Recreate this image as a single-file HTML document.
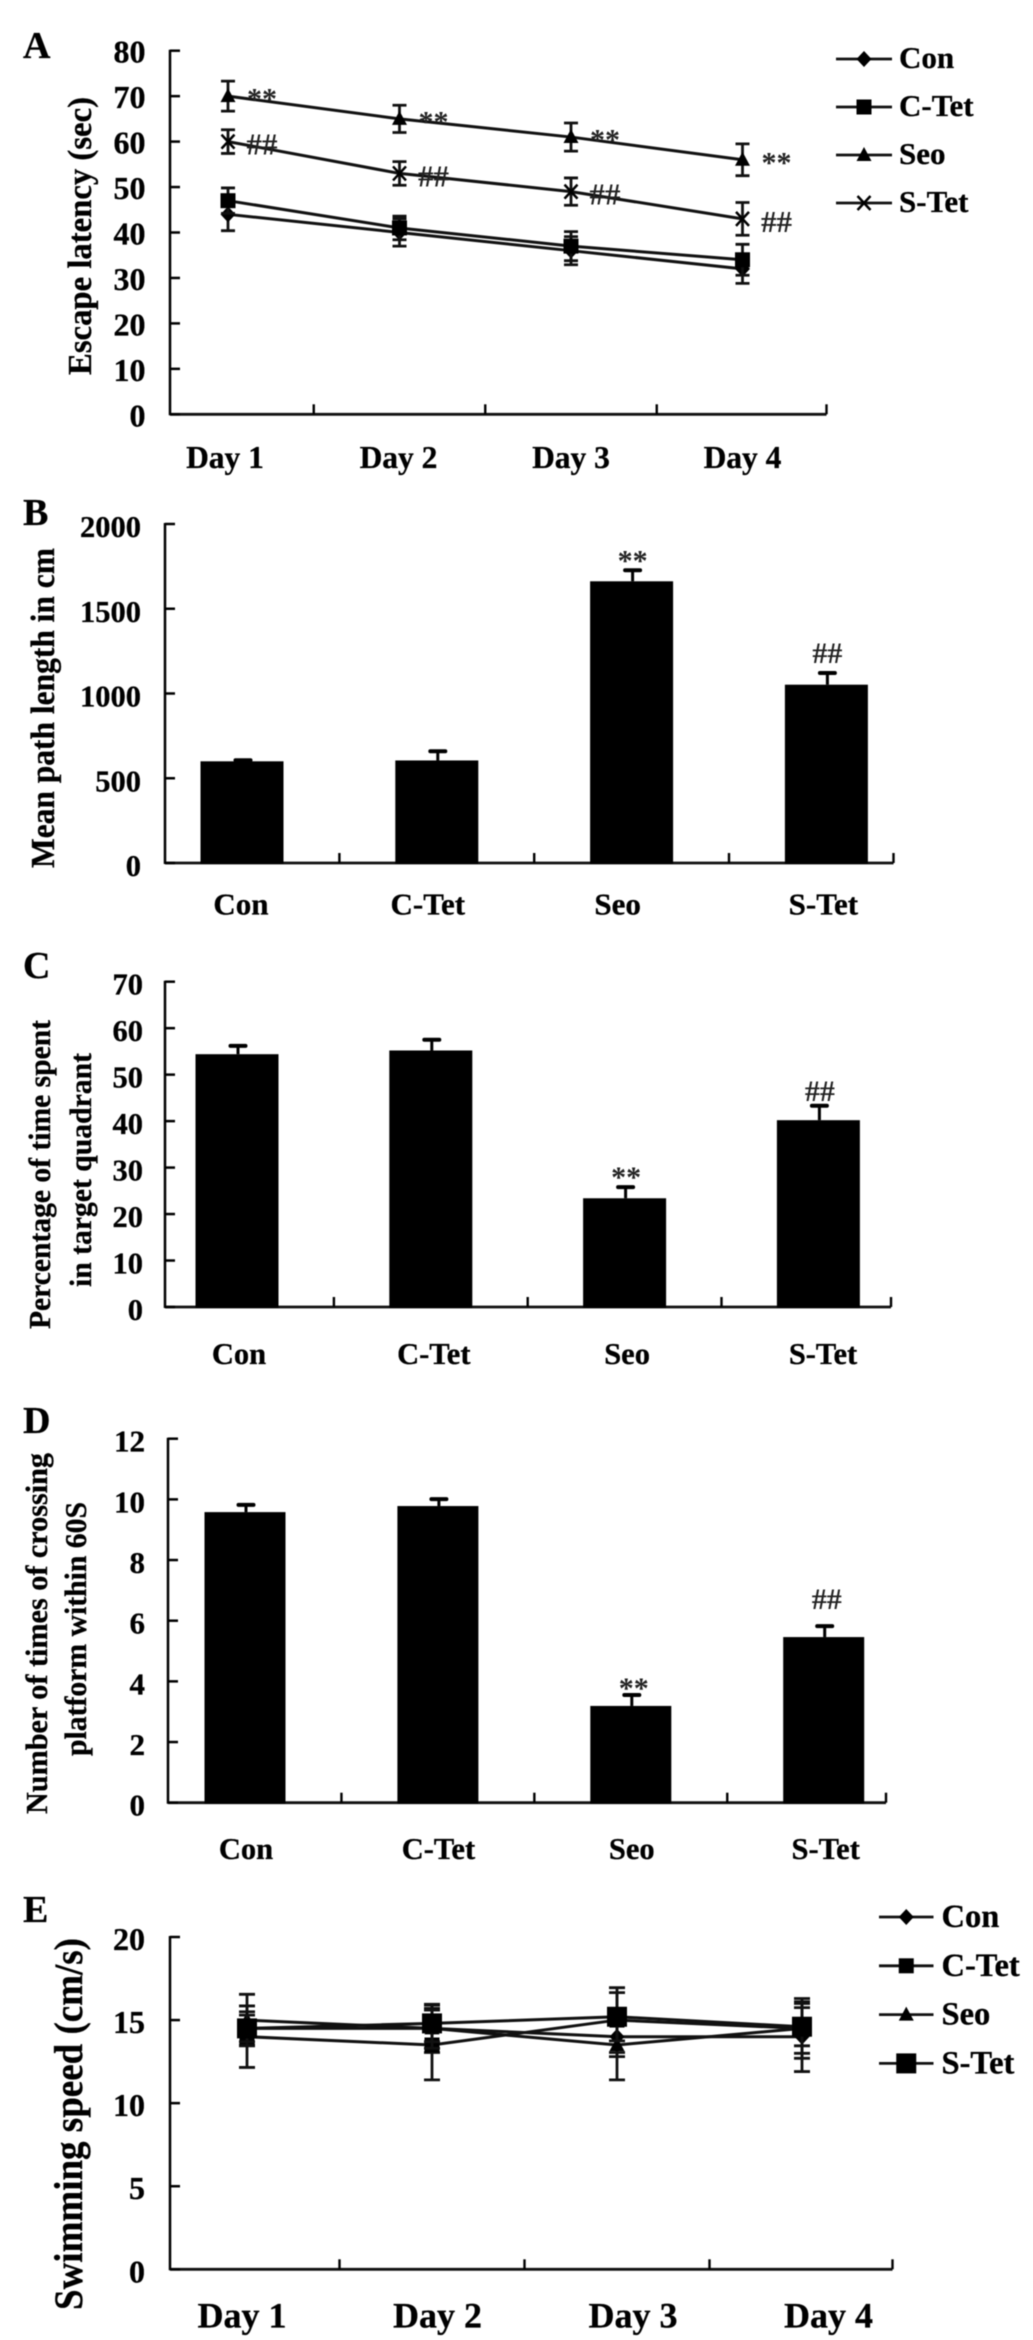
<!DOCTYPE html>
<html lang="en">
<head>
<meta charset="utf-8">
<title>Behavioural test results, panels A to E</title>
<style>
  html, body { margin: 0; padding: 0; background: #fff; }
  svg { display: block; filter: blur(0.45px); }
  text { font-family: "Liberation Serif", serif; font-weight: bold; fill: #000; stroke: #000; stroke-width: 0.3px; }
</style>
</head>
<body>
<svg id="figure" xmlns="http://www.w3.org/2000/svg" width="1033" height="2340" viewBox="0 0 1033 2340">
  <rect width="1033" height="2340" fill="#fff"/>

  <text x="23" y="58" font-size="38">A</text>
  <text x="23" y="525" font-size="38">B</text>
  <text x="23" y="978" font-size="38">C</text>
  <text x="23" y="1433" font-size="38">D</text>
  <text x="23" y="1922" font-size="38">E</text>

  <text x="91" y="375" transform="rotate(-90 91 375)" font-size="34" textLength="278" lengthAdjust="spacingAndGlyphs">Escape latency (sec)</text>
  <text x="54" y="868" transform="rotate(-90 54 868)" font-size="34" textLength="320" lengthAdjust="spacingAndGlyphs">Mean path length in cm</text>
  <text x="50" y="1329" transform="rotate(-90 50 1329)" font-size="31" textLength="309" lengthAdjust="spacingAndGlyphs">Percentage of time spent</text>
  <text x="91" y="1287" transform="rotate(-90 91 1287)" font-size="31" textLength="234" lengthAdjust="spacingAndGlyphs">in target quadrant</text>
  <text x="47" y="1814" transform="rotate(-90 47 1814)" font-size="31" textLength="361" lengthAdjust="spacingAndGlyphs">Number of times of crossing</text>
  <text x="86" y="1756" transform="rotate(-90 86 1756)" font-size="31" textLength="254" lengthAdjust="spacingAndGlyphs">platform within 60S</text>
  <text x="82" y="2310" transform="rotate(-90 82 2310)" font-size="40" textLength="372" lengthAdjust="spacingAndGlyphs">Swimming speed (cm/s)</text>
</svg>

<script>
// ---- Shared labels ----
const dayCategories = ['Day 1', 'Day 2', 'Day 3', 'Day 4'];
const groupCategories = ['Con', 'C-Tet', 'Seo', 'S-Tet'];

// ---- Panel A: escape latency ----
const aYTicks = [0, 10, 20, 30, 40, 50, 60, 70, 80];
const aCon = [44, 40, 36, 32];
const aCTet = [47, 41, 37, 34];
const aSeo = [70, 65, 61, 56];
const aSTet = [60, 53, 49, 43];
const aConErr = [3.6, 3, 3.1, 3.2];
const aCTetErr = [2.8, 2.6, 3.2, 3.4];
const aSeoErr = [3.3, 3, 3.1, 3.5];
const aSTetErr = [2.6, 2.6, 3, 3.6];
const aSeoMarks = ['**', '**', '**', '**'];
const aSTetMarks = ['##', '##', '##', '##'];

// ---- Panel B: mean path length ----
const bYTicks = [0, 500, 1000, 1500, 2000];
const bValues = [600, 605, 1662, 1052];
const bErrors = [6, 54, 65, 69];
const bMarks = ['', '', '**', '##'];

// ---- Panel C: time in target quadrant ----
const cYTicks = [0, 10, 20, 30, 40, 50, 60, 70];
const cValues = [54.4, 55.2, 23.4, 40.2];
const cErrors = [1.8, 2.3, 2.4, 3.1];
const cMarks = ['', '', '**', '##'];

// ---- Panel D: platform crossings ----
const dYTicks = [0, 2, 4, 6, 8, 10, 12];
const dValues = [9.58, 9.78, 3.19, 5.46];
const dErrors = [0.24, 0.23, 0.36, 0.36];
const dMarks = ['', '', '**', '##'];

// ---- Panel E: swimming speed ----
const eYTicks = [0, 5, 10, 15, 20];
const eCon = [14.5, 14.5, 14, 14];
const eCTet = [14, 13.5, 15, 14.5];
const eSeo = [15, 14.5, 13.5, 14.5];
const eSTet = [14.5, 14.8, 15.2, 14.6];
const eConErr = [1, 1.45, 1.2, 2.1];
const eCTetErr = [1.85, 2.1, 1.95, 1.8];
const eSeoErr = [1.55, 1.2, 2.1, 1.5];
const eSTetErr = [0.8, 1.1, 1.45, 1.15];

const SVG_NS = 'http://www.w3.org/2000/svg';
const figure = document.getElementById('figure');

function add(tag, attrs, parent, content) {
  const el = document.createElementNS(SVG_NS, tag);
  for (const key in attrs) el.setAttribute(key, attrs[key]);
  if (content !== undefined) el.textContent = content;
  parent.appendChild(el);
  return el;
}

function yScale(p, v) { return p.yBottom - (v / p.yMax) * (p.yBottom - p.yTop); }
function xBand(p, i) { return p.x0 + p.step * i; }

function drawAxes(p, yTicks, categories, name) {
  const g = add('g', {}, figure);
  
  

  const yAxis = add('line', { x1: p.axisX, x2: p.axisX, y1: p.yTop - 1, y2: p.yBottom + 1, stroke: '#000', 'stroke-width': 2.5 }, g);
  
  

  const xAxis = add('line', { x1: p.axisX, x2: p.right, y1: p.yBottom, y2: p.yBottom, stroke: '#111', 'stroke-width': 2.8 }, g);
  
  

  yTicks.forEach(function (t) {
    const y = yScale(p, t);
    const tick = add('line', { x1: p.axisX, x2: p.axisX + 10, y1: y, y2: y, stroke: '#000', 'stroke-width': 2.5 }, g);
    
    
    const label = add('text', { x: p.tickRight, y: y + p.tickDrop, 'text-anchor': 'end', 'font-size': p.tickFont }, g, String(t));
    
    
  });

  categories.forEach(function (c, i) {
    const tickX = i < categories.length - 1 ? (xBand(p, i) + xBand(p, i + 1)) / 2 : p.right;
    const tick = add('line', { x1: tickX, x2: tickX, y1: p.yBottom, y2: p.yBottom - 10, stroke: '#000', 'stroke-width': 2.4 }, g);
    
    
    const label = add('text', { x: xBand(p, i) + p.labelShift[i], y: p.labelBaseline, 'text-anchor': 'middle', 'font-size': p.catFont }, g, c);
    
    
  });
}

function drawBars(p, values, errors, marks, name) {
  const g = add('g', {}, figure);
  
  

  values.forEach(function (v, i) {
    const cx = xBand(p, i);
    const top = yScale(p, v);
    const errTop = yScale(p, v + errors[i]);
    const bar = add('rect', { x: cx - p.barHalf, y: top, width: p.barHalf * 2, height: p.yBottom - top + 1, fill: '#000' }, g);
    
    
    const stem = add('line', { x1: cx + 1, x2: cx + 1, y1: top, y2: errTop, stroke: '#000', 'stroke-width': 3 }, g);
    
    
    const cap = add('line', { x1: cx - 6.5, x2: cx + 8.5, y1: errTop, y2: errTop, stroke: '#000', 'stroke-width': 4, 'stroke-linecap': 'round' }, g);
    
    
    if (marks[i]) {
      const isStar = marks[i] === '**';
      const gap = isStar ? p.starGap : p.hashGap;
      const drop = isStar ? 14 : 10;
      const mark = add('text', { x: cx + p.markShift, y: errTop - gap + drop, 'text-anchor': 'middle', 'font-size': 30, style: 'fill:#222;stroke:none' }, g, marks[i]);
      
      
    }
  });
}

function drawMarker(kind, x, y, parent) {
  let el;
  if (kind === 'diamond') {
    el = add('polygon', { points: [x, y - 8, x + 7.5, y, x, y + 8, x - 7.5, y].join(' '), fill: '#000' }, parent);
  } else if (kind === 'square') {
    el = add('rect', { x: x - 7.5, y: y - 7.5, width: 15, height: 15, fill: '#000' }, parent);
  } else if (kind === 'triangle') {
    el = add('polygon', { points: [x, y - 8, x + 7.5, y + 6, x - 7.5, y + 6].join(' '), fill: '#000' }, parent);
  } else if (kind === 'bigsquare') {
    el = add('rect', { x: x - 10, y: y - 10, width: 20, height: 20, fill: '#000' }, parent);
  } else {
    el = add('path', { d: 'M' + (x - 6.5) + ' ' + (y - 7) + 'L' + (x + 6.5) + ' ' + (y + 7) + 'M' + (x + 6.5) + ' ' + (y - 7) + 'L' + (x - 6.5) + ' ' + (y + 7), stroke: '#000', 'stroke-width': 2.5, fill: 'none' }, parent);
  }
  return el;
}

function drawSeries(p, label, kind, values, errors, marks, name) {
  const g = add('g', {}, figure);
  
  

  const pts = values.map(function (v, i) { return xBand(p, i) + ',' + yScale(p, v); }).join(' ');
  const line = add('polyline', { points: pts, fill: 'none', stroke: '#111', 'stroke-width': 3 }, g);
  
  

  values.forEach(function (v, i) {
    const cx = xBand(p, i);
    const hi = yScale(p, v + errors[i]);
    const lo = yScale(p, v - errors[i]);
    const err = add('path', {
      d: 'M' + cx + ' ' + hi + 'V' + lo + 'M' + (cx - p.capHalf) + ' ' + hi + 'H' + (cx + p.capHalf) + 'M' + (cx - p.capHalf) + ' ' + lo + 'H' + (cx + p.capHalf),
      stroke: '#111', 'stroke-width': 2.8, fill: 'none'
    }, g);
    
    
    const marker = drawMarker(kind, cx, yScale(p, v), g);
    
    
    if (marks && marks[i]) {
      const isStar = marks[i] === '**';
      const mark = add('text', { x: cx + 34, y: yScale(p, v) + (isStar ? 12.5 : 13), 'text-anchor': 'middle', 'font-size': isStar ? 30 : 31, style: 'fill:#222;stroke:none' }, g, marks[i]);
      
      
    }
  });
}

function drawLegend(l, labels, kinds, name) {
  labels.forEach(function (label, i) {
    const g = add('g', {}, figure);
    
    
    const y = l.y0 + l.rowStep * i;
    const swatch = add('line', { x1: l.x1, x2: l.x2, y1: y, y2: y, stroke: '#111', 'stroke-width': 2.8 }, g);
    
    
    const marker = drawMarker(kinds[i], (l.x1 + l.x2) / 2, y, g);
    
    
    const text = add('text', { x: l.textX, y: y + l.baseDrop, 'font-size': l.font }, g, label);
    
    
  });
}

// ---- Panel A ----
const panelA = { axisX: 170, right: 826.5, yTop: 50.7, yBottom: 414.3, yMax: aYTicks[aYTicks.length - 1],
  x0: 228, step: 171.5, tickRight: 145.5, tickFont: 32, tickDrop: 12, catFont: 31.5, labelBaseline: 468,
  labelShift: [-3, -1, 0, 0], capHalf: 7 };
drawAxes(panelA, aYTicks, dayCategories, 'panel-a');
drawSeries(panelA, 'Con', 'diamond', aCon, aConErr, null, 'panel-a');
drawSeries(panelA, 'C-Tet', 'square', aCTet, aCTetErr, null, 'panel-a');
drawSeries(panelA, 'Seo', 'triangle', aSeo, aSeoErr, aSeoMarks, 'panel-a');
drawSeries(panelA, 'S-Tet', 'cross', aSTet, aSTetErr, aSTetMarks, 'panel-a');
drawLegend({ x1: 836, x2: 892, y0: 59, rowStep: 48, textX: 899, baseDrop: 9, font: 31 }, groupCategories, ['diamond', 'square', 'triangle', 'cross'], 'panel-a');

// ---- Panel B ----
const panelB = { axisX: 165, right: 893.5, yTop: 524, yBottom: 863, yMax: bYTicks[bYTicks.length - 1],
  x0: 242, step: 194.8, barHalf: 41.5, tickRight: 141, tickFont: 30.5, tickDrop: 13, catFont: 31, labelBaseline: 914.5,
  labelShift: [-1, -9, -14, -3], starGap: 14, hashGap: 20, markShift: 1 };
drawAxes(panelB, bYTicks, groupCategories, 'panel-b');
drawBars(panelB, bValues, bErrors, bMarks, 'panel-b');

// ---- Panel C ----
const panelC = { axisX: 165, right: 891, yTop: 981.7, yBottom: 1307, yMax: cYTicks[cYTicks.length - 1],
  x0: 237, step: 193.8, barHalf: 41.5, tickRight: 143, tickFont: 30.5, tickDrop: 13, catFont: 30.5, labelBaseline: 1364,
  labelShift: [2, 3, 2.5, 4.6], starGap: 14, hashGap: 15, markShift: 1.5 };
drawAxes(panelC, cYTicks, groupCategories, 'panel-c');
drawBars(panelC, cValues, cErrors, cMarks, 'panel-c');

// ---- Panel D ----
const panelD = { axisX: 168, right: 886, yTop: 1438.7, yBottom: 1802.7, yMax: dYTicks[dYTicks.length - 1],
  x0: 245, step: 192.9, barHalf: 40.5, tickRight: 145, tickFont: 31, tickDrop: 13, catFont: 30.5, labelBaseline: 1859,
  labelShift: [1, 0.5, 1, 2], starGap: 11, hashGap: 27, markShift: 3 };
drawAxes(panelD, dYTicks, groupCategories, 'panel-d');
drawBars(panelD, dValues, dErrors, dMarks, 'panel-d');

// ---- Panel E ----
const panelE = { axisX: 170, right: 892.5, yTop: 1937, yBottom: 2269.3, yMax: eYTicks[eYTicks.length - 1],
  x0: 247, step: 185, tickRight: 145, tickFont: 32, tickDrop: 13, catFont: 36, labelBaseline: 2327.5,
  labelShift: [-5, 5.5, 16, 26.5], capHalf: 8 };
drawAxes(panelE, eYTicks, dayCategories, 'panel-e');
drawSeries(panelE, 'Con', 'diamond', eCon, eConErr, null, 'panel-e');
drawSeries(panelE, 'C-Tet', 'square', eCTet, eCTetErr, null, 'panel-e');
drawSeries(panelE, 'Seo', 'triangle', eSeo, eSeoErr, null, 'panel-e');
drawSeries(panelE, 'S-Tet', 'bigsquare', eSTet, eSTetErr, null, 'panel-e');
drawLegend({ x1: 879, x2: 933.5, y0: 1917, rowStep: 48.8, textX: 941.5, baseDrop: 10, font: 32.5 }, groupCategories, ['diamond', 'square', 'triangle', 'bigsquare'], 'panel-e');
</script>
</body>
</html>
